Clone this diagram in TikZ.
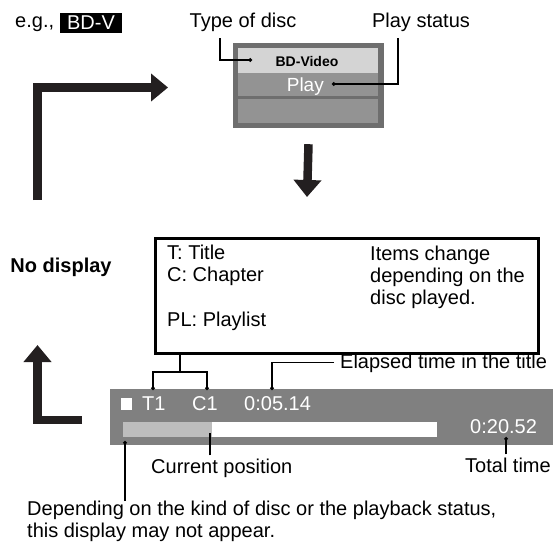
\documentclass[tikz,border=0pt]{standalone}
\usepackage{fontspec}
\setmainfont{Liberation Sans}
\usetikzlibrary{arrows.meta}
\definecolor{panelgray}{HTML}{808080}
\definecolor{discframe}{HTML}{6E6E6E}
\definecolor{discrow}{HTML}{939393}
\definecolor{disctop}{HTML}{D4D4D4}
\definecolor{bargray}{HTML}{BDBDBD}
\definecolor{arrowblack}{HTML}{231F20}

\begin{document}
\begin{tikzpicture}[x=1pt,y=-1pt,
    every node/.style={font=\fontsize{20}{22}\selectfont, inner sep=3pt},
    leader/.style={line width=1.3pt, -{Circle[open,fill=white,length=3.5pt]}},
    bigarrow/.style={draw=arrowblack, line width=8.5pt, -{Triangle[width=27pt,length=17pt]}}]
    \useasboundingbox (0,0) rectangle (553,544);

    % Draw example label
    \node[anchor=base west] (eg) at (12,27) {e.g.,};
    \node[fill=black, text=white, minimum width=62pt, minimum height=20pt, inner sep=0pt] (bdv) at (91,23) {BD-V};

    % Draw disc info window
    \node[fill=discframe, minimum width=151pt, minimum height=85pt, inner sep=0pt] (disc) at (308.5,85.5) {};
    \fill[disctop] (238,48) rectangle (378,73);
    \fill[discrow] (238,73) rectangle (378,96);
    \fill[discrow] (238,99) rectangle (378,123);
    \node[font=\fontsize{14}{16}\selectfont\bfseries] (bdvideo) at (307,61) {BD-Video};
    \node[anchor=base east, text=white, font=\fontsize{19}{22}\selectfont] (play) at (327,91) {Play};

    % Labels of the window
    \node[anchor=base] (tod) at (243,27) {Type of disc};
    \node[anchor=base] (ps) at (421,27) {Play status};
    \coordinate (todtip) at (252,60);
    \coordinate (pstip) at (332,84);
    \draw[leader] ([xshift=-23pt,yshift=-4pt]tod.south) |- (todtip);
    \draw[leader] ([xshift=-23pt,yshift=-4pt]ps.south) |- (pstip);

    % Draw flow arrows
    \coordinate (loopstart) at (37.5,200);
    \coordinate (loopend) at (168,87.5);
    \draw[bigarrow] (loopstart) |- (loopend);
    \coordinate (downtip) at (307,197);
    \draw[bigarrow] ([yshift=-16pt]disc.south) -- (downtip);
    \coordinate (backstart) at (82,420);
    \coordinate (backend) at (37.5,345);
    \draw[bigarrow] (backstart) -| (backend);

    \node[font=\fontsize{20}{22}\selectfont\bfseries] (nodisp) at (61,267) {No display};

    % Draw info box
    \node[draw, line width=3pt, minimum width=383pt, minimum height=115pt, inner sep=0pt] (info) at (347,296) {};
    \node[anchor=north west, align=left, inner sep=0pt] (keys) at (167,244.5) {T: Title\\C: Chapter\\[23pt]PL: Playlist};
    \node[anchor=north west, align=left, inner sep=0pt] (note) at (370,245.5) {Items change\\depending on the\\disc played.};

    % Draw playback bar
    \fill[panelgray] (110,389) rectangle (553,445);
    \fill[bargray] (123,422) rectangle (212,437);
    \fill[white] (212,422) rectangle (437,437);
    \fill[white] (121,398) rectangle (132,410);
    \node[anchor=base west, text=white, inner sep=0pt] (t1) at (142,410) {T1};
    \node[anchor=base west, text=white, inner sep=0pt] (c1) at (192,410) {C1};
    \node[anchor=base west, text=white, inner sep=0pt] (elapsedval) at (244,410) {0:05.14};
    \node[anchor=base west, text=white, inner sep=0pt] (totalval) at (470,433) {0:20.52};

    % Leaders of the bar
    \coordinate (brace) at (180,372);
    \coordinate (t1tip) at (153,390);
    \coordinate (c1tip) at (207,390);
    \draw[line width=1.3pt] (info.south -| brace) -- (brace);
    \draw[leader] (brace) -| (t1tip);
    \draw[leader] (brace) -| (c1tip);

    \node[anchor=base west] (elapsed) at (337,368) {Elapsed time in the title};
    \coordinate (elapsedtip) at (272,390);
    \draw[leader] ([xshift=-3pt]elapsed.west) -| (elapsedtip);

    \node[anchor=base west] (curpos) at (148,473) {Current position};
    \coordinate (curtip) at (210,433);
    \draw[line width=1.3pt] (curpos.north -| curtip) -- (curtip);

    \node[anchor=base west] (total) at (462,472) {Total time};
    \coordinate (totaltip) at (506,437);
    \draw[leader] (total.north -| totaltip) -- (totaltip);

    \node[anchor=north west, align=left, inner sep=0pt] (depend) at (27,501) {Depending on the kind of disc or the playback status,\\this display may not appear.};
    \coordinate (deptip) at (125,441);
    \draw[leader] (depend.north -| deptip) -- (deptip);
\end{tikzpicture}
\end{document}
